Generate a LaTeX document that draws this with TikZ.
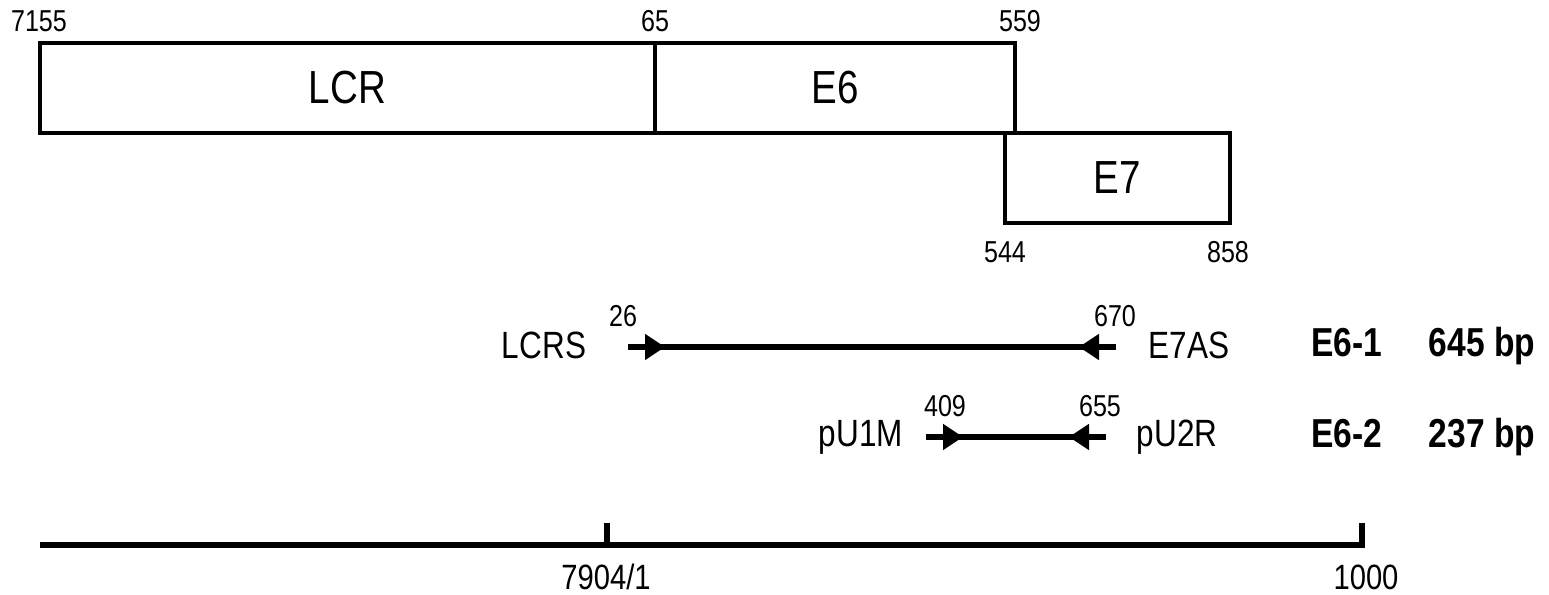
\documentclass[tikz,border=0pt]{standalone}
\usepackage{fontspec}
\setmainfont[FakeStretch=0.83]{Liberation Sans}
\usepackage{tikz}
\usetikzlibrary{arrows.meta,positioning,calc}

\begin{document}
\begin{tikzpicture}[x=0.01cm,y=-0.01cm,line width=1.1pt,
  gene/.style={draw,line width=1.1pt,minimum height=0.9cm,inner sep=0pt,font=\fontsize{13.2}{15}\selectfont},
  numlbl/.style={font=\fontsize{8.6}{10}\selectfont,inner sep=0pt},
  scalelbl/.style={font=\fontsize{10}{12}\selectfont,inner sep=0pt},
  lbl/.style={font=\fontsize{10.8}{12}\selectfont,inner sep=0pt},
  amp/.style={font=\fontsize{11.5}{13}\selectfont\bfseries,inner sep=0pt},
  primer/.style={line width=1.6pt},
  tipr/.style={line width=1.6pt,-{Triangle[length=0.2cm,width=0.25cm]}}]
\useasboundingbox (0,0) rectangle (1549,595);
% genome map
\node[gene,minimum width=6.15cm] (lcr) at (347.5,88) {LCR};
\node[gene,minimum width=3.6cm] (e6) at (835,88) {E6};
\node[gene,minimum width=2.25cm,minimum height=0.9cm] (e7) at (1117.5,178) {E7};
\node[numlbl] (n7155) at (39,21) {7155};
\node[numlbl] (n65) at (655,21) {65};
\node[numlbl] (n559) at (1020,21) {559};
\node[numlbl] (n544) at (1005,252) {544};
\node[numlbl] (n858) at (1228,252) {858};
% primers
\coordinate (s1) at (628,347);
\coordinate (e1) at (1116,347);
\draw[primer] (s1) -- (e1);
\draw[tipr] (s1) -- ++(37,0);
\draw[tipr] (e1) -- ++(-37,0);
\node[lbl,anchor=east] (lcrs) at (588,345) {LCRS};
\node[lbl,anchor=west] (e7as) at (1147,345) {E7AS};
\node[numlbl] (n26) at (623,316) {26};
\node[numlbl] (n670) at (1115,316) {670};
\node[amp,anchor=east] (a1) at (1384,343) {E6-1};
\node[amp,anchor=west] (bp1) at (1427,346) {645 bp};
\coordinate (s2) at (926,437);
\coordinate (e2) at (1106,437);
\draw[primer] (s2) -- (e2);
\draw[tipr] (s2) -- ++(37,0);
\draw[tipr] (e2) -- ++(-37,0);
\node[lbl,anchor=east] (pu1m) at (905,437) {pU1M};
\node[lbl,anchor=west] (pu2r) at (1135,437) {pU2R};
\node[numlbl] (n409) at (945,406) {409};
\node[numlbl] (n655) at (1100,406) {655};
\node[amp,anchor=east] (a2) at (1384,434) {E6-2};
\node[amp,anchor=west] (bp2) at (1427,437) {237 bp};
% scale
\coordinate (b0) at (40,545);
\coordinate (b1) at (1365,545);
\coordinate (t0) at (607,523);
\coordinate (t1) at (1362,523);
\draw[line width=1.6pt] (b0) -- (b1);
\draw[line width=1.6pt] (t0) -- (t0 |- b0);
\draw[line width=1.6pt] (t1) -- ([yshift=-0.8pt]t1 |- b0);
\node[scalelbl] (n7904) at (606,577) {7904/1};
\node[scalelbl] (n1000) at (1366,577) {1000};
\end{tikzpicture}
\end{document}
